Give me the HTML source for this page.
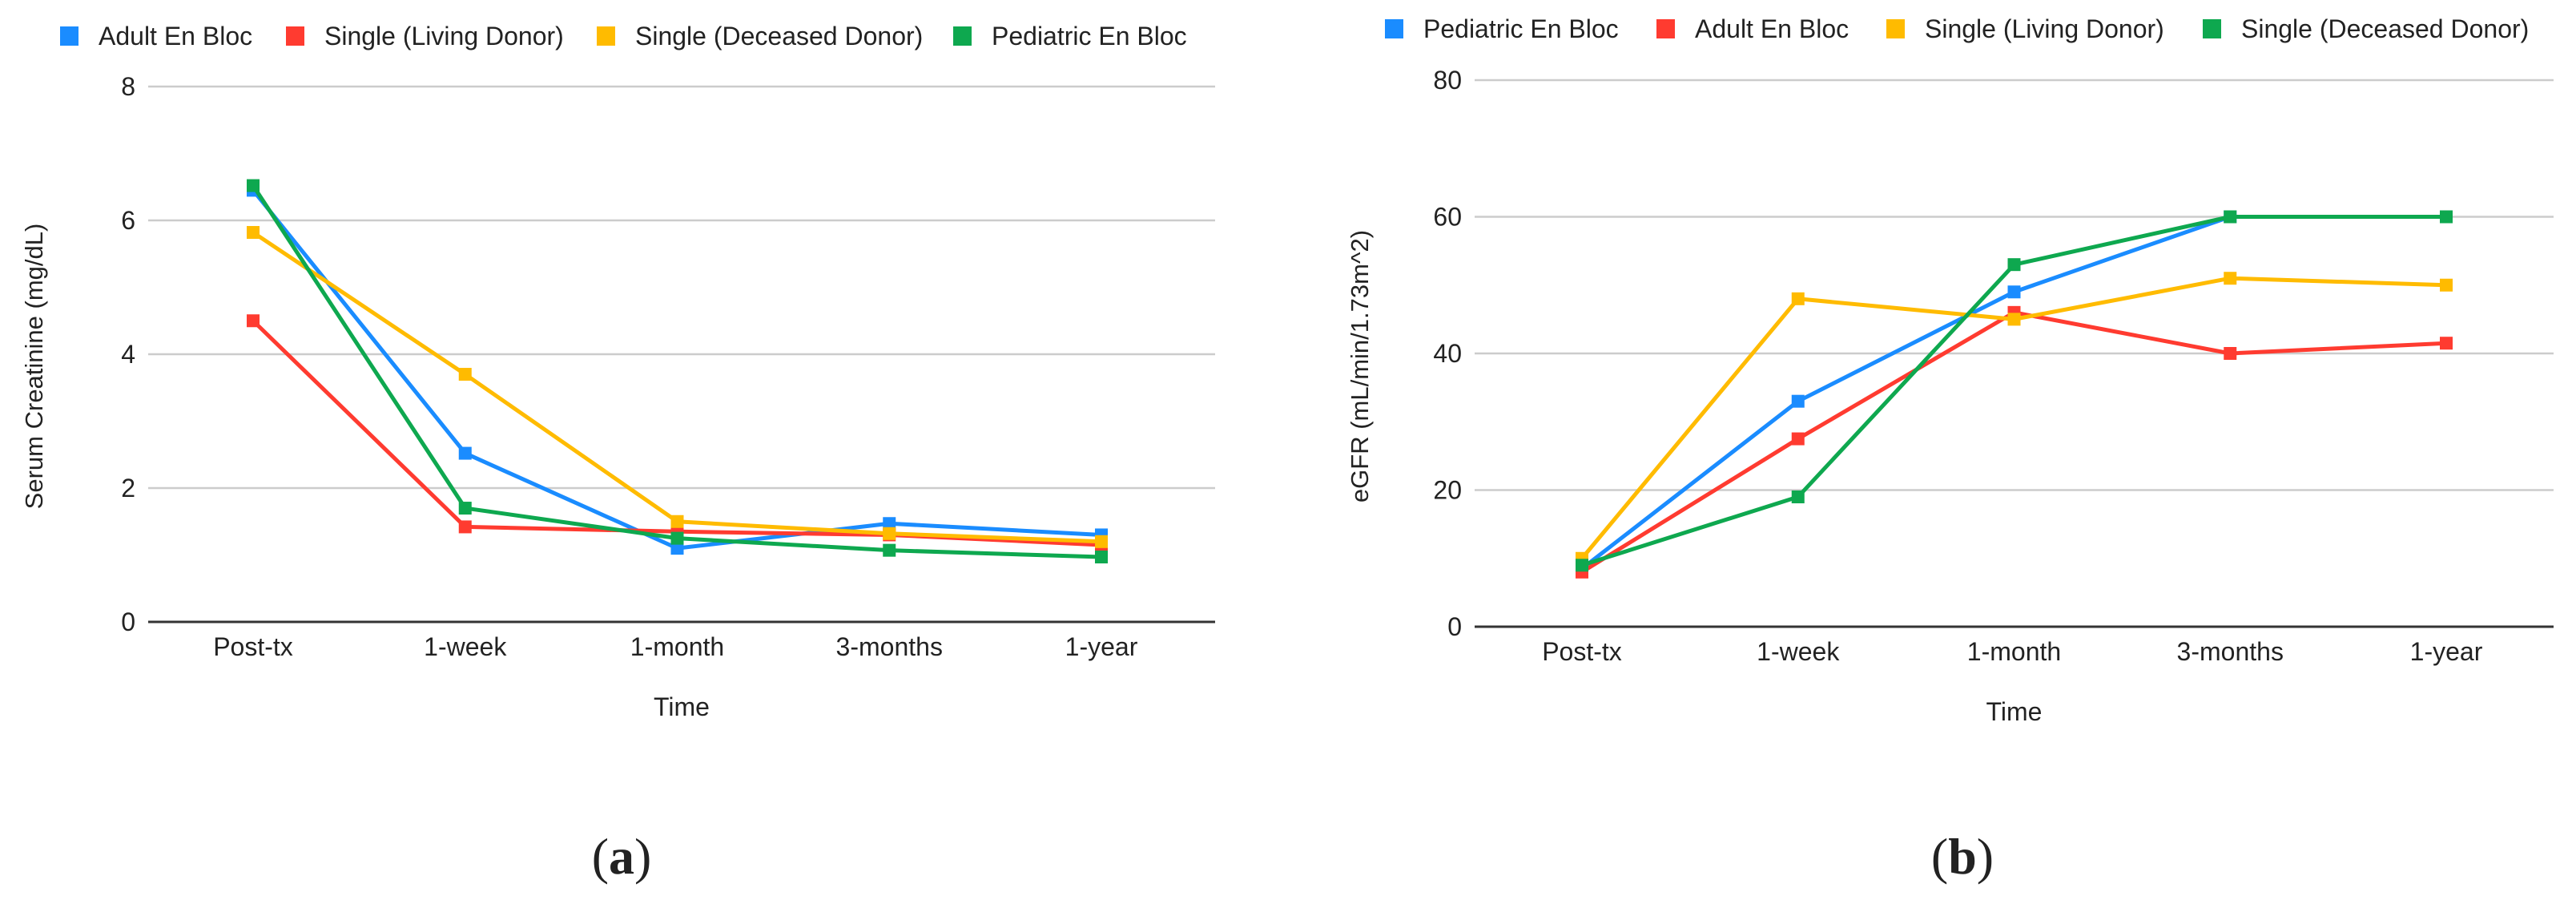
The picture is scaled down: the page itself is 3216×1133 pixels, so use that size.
<!DOCTYPE html>
<html><head><meta charset="utf-8"><style>
html,body{margin:0;padding:0;background:#fff;}
svg{display:block;}
text{font-family:"Liberation Sans",Arial,sans-serif;fill:#222;}
</style></head><body>
<svg id="chart" width="3216" height="1133" viewBox="0 0 3216 1133" xmlns="http://www.w3.org/2000/svg"></svg>
<script>
const categories = ["Post-tx","1-week","1-month","3-months","1-year"];
// Panel (a) serum creatinine
const aNames = ["Adult En Bloc","Single (Living Donor)","Single (Deceased Donor)","Pediatric En Bloc"];
const aAdult = [6.45, 2.52, 1.1, 1.47, 1.3];
const aLiving = [4.5, 1.42, 1.35, 1.3, 1.15];
const aDeceased = [5.82, 3.7, 1.5, 1.32, 1.2];
const aPediatric = [6.52, 1.7, 1.25, 1.07, 0.97];
const aTicks = [0, 2, 4, 6, 8];
// Panel (b) eGFR
const bNames = ["Pediatric En Bloc","Adult En Bloc","Single (Living Donor)","Single (Deceased Donor)"];
const bPediatric = [8.5, 33, 49, 60, 60];
const bAdult = [8, 27.5, 46, 40, 41.5];
const bLiving = [10, 48, 45, 51, 50];
const bDeceased = [9, 19, 53, 60, 60];
const bTicks = [0, 20, 40, 60, 80];

const COLORS = ["#1a8cff","#ff3b30","#ffbb00","#0ea84f"];
const svg = document.getElementById('chart');
const NS = "http://www.w3.org/2000/svg";
function mk(tag, attrs, parent){
  const e = document.createElementNS(NS, tag);
  for (const k in attrs) e.setAttribute(k, attrs[k]);
  (parent||svg).appendChild(e);
  return e;
}

function panel(cfg){
  const g = mk('g', {});
  
  
  const yMax = cfg.ticks[cfg.ticks.length-1];
  const ys = v => cfg.y0 - (v / yMax) * (cfg.y0 - cfg.yTop);
  const xs = i => cfg.cx0 + i * cfg.cdx;
  // gridlines + tick labels
  cfg.ticks.forEach(t => {
    const ln = mk('line', {x1:cfg.left, x2:cfg.right, y1:ys(t), y2:ys(t), stroke: t===0?'#333':'#ccc', 'stroke-width': t===0?3:2.5}, g);
    
    
    const tx = mk('text', {x:cfg.left-16, y:ys(t)+11, 'text-anchor':'end', 'font-size':32}, g);
    
    
    tx.textContent = t;
  });
  categories.forEach((c,i) => {
    const tx = mk('text', {x:xs(i), y:cfg.y0+42, 'text-anchor':'middle', 'font-size':32}, g);
    
    
    tx.textContent = c;
  });
  const xt = mk('text', {x:(cfg.left+cfg.right)/2, y:cfg.y0+117, 'text-anchor':'middle', 'font-size':32}, g);
  
  
  xt.textContent = 'Time';
  const yt = mk('text', {x:0, y:0, 'text-anchor':'middle', 'font-size':31, transform:`translate(${cfg.ytX},457) rotate(-90)`}, g);
  
  
  yt.textContent = cfg.yTitle;
  // series
  cfg.series.forEach((s, k) => {
    const pts = s.map((v,i) => xs(i)+','+ys(v)).join(' ');
    const pl = mk('polyline', {points:pts, fill:'none', stroke:COLORS[k], 'stroke-width':5, 'stroke-linejoin':'round'}, g);
    
    
    s.forEach((v,i) => {
      const r = mk('rect', {x:xs(i)-8, y:ys(v)-8, width:16, height:16, fill:COLORS[k]}, g);
      
      
    });
  });
  // legend
  cfg.names.forEach((n,k) => {
    const r = mk('rect', {x:cfg.legX[k]-11, y:cfg.legY-12, width:23, height:24, fill:COLORS[k]}, g);
    
    
    const t = mk('text', {x:cfg.legX[k]+37, y:cfg.legY+11, 'font-size':32}, g);
    
    
    t.textContent = n;
  });
  const lab = mk('text', {x:cfg.labX, y:1090, 'text-anchor':'middle', 'font-size':64, style:'font-family:"Liberation Serif",serif;'}, g);
  
  
  lab.innerHTML = '(<tspan font-weight="bold">' + cfg.label + '</tspan>)';
}

panel({id:'panel-a-creatinine', left:185, right:1517, y0:776, yTop:108, cx0:316, cdx:264.75,
  ticks:aTicks, series:[aAdult,aLiving,aDeceased,aPediatric], names:aNames,
  legX:[86,368,756,1201], legY:45, ytX:53, yTitle:'Serum Creatinine (mg/dL)', labX:776, label:'a'});
panel({id:'panel-b-egfr', left:1841, right:3188, y0:782, yTop:100, cx0:1975, cdx:269.75,
  ticks:bTicks, series:[bPediatric,bAdult,bLiving,bDeceased], names:bNames,
  legX:[1740,2079,2366,2761], legY:36, ytX:1708, yTitle:'eGFR (mL/min/1.73m^2)', labX:2450, label:'b'});
</script>
</body></html>
